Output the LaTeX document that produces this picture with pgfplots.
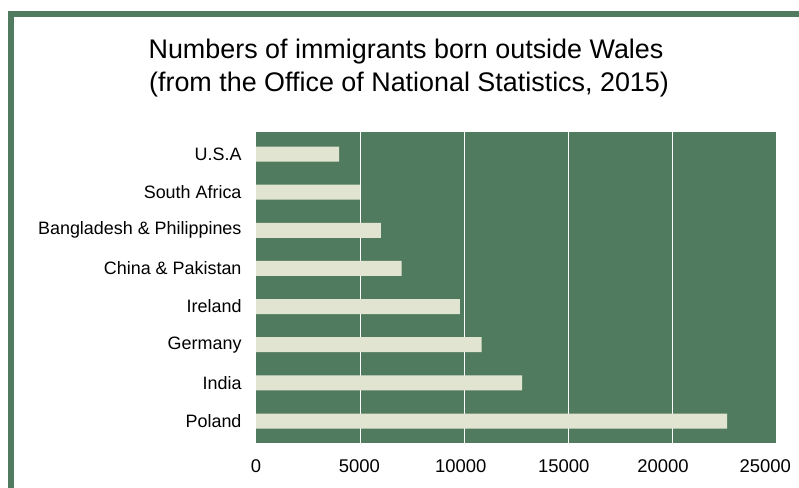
\documentclass[border=0pt]{standalone}
\usepackage{pgfplots}
\pgfplotsset{compat=1.18}
\usepackage{fontspec}
\setmainfont{Liberation Sans}
\definecolor{wgreen}{RGB}{81,123,94}
\definecolor{wbar}{RGB}{225,228,208}
\begin{document}
\begin{tikzpicture}[x=1bp,y=1bp]
\useasboundingbox (0,0) rectangle (799,-488);
\draw[wgreen, line width=6bp, line join=miter] (11,-488) -- (11,-14) -- (799,-14);
\node[anchor=base, inner sep=0pt, font=\fontsize{27}{32}\selectfont] at (406,-59) {Numbers of immigrants born outside Wales};
\node[anchor=base, inner sep=0pt, font=\fontsize{27}{32}\selectfont] at (409,-92) {(from the Office of National Statistics, 2015)};
\begin{axis}[
  at={(256bp,-443bp)}, anchor=south west,
  scale only axis, width=520bp, height=311bp,
  xmin=0, xmax=25000, ymin=-0.577, ymax=7.577,
  xbar, bar width=15bp,
  scaled x ticks=false,
  xtick={0,4970,9840,14800,19570,24480},
  xticklabels={0,5000,10000,15000,20000,25000},
  minor xtick={5000,10000,15000,20000},
  xminorgrids, xmajorgrids=false,
  minor grid style={white, line width=1bp},
  ytick={0,...,7},
  yticklabels={Poland,India,Germany,Ireland,China \& Pakistan,Bangladesh \& Philippines,South Africa,U.S.A},
  major tick length=0, minor tick length=0,
  axis line style={draw=none},
  axis background/.style={fill=wgreen},
  xticklabel style={font=\fontsize{18.5}{20}\selectfont, yshift=-13bp},
  yticklabel style={font=\fontsize{18}{20}\selectfont, xshift=-11bp},
  /pgf/number format/assume math mode=true,
]
\addplot[fill=wbar, draw=none] coordinates {(22650,0) (12800,1) (10850,2) (9800,3) (7000,4) (6000,5) (5000,6) (4000,7)};
\end{axis}
\end{tikzpicture}
\end{document}
